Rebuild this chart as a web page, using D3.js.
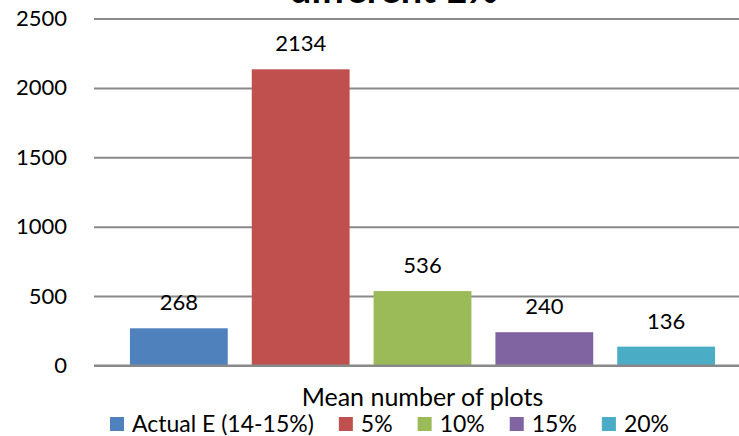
<!DOCTYPE html>
<html><head><meta charset="utf-8">
<script src="https://cdn.jsdelivr.net/npm/d3@7"></script>
<style>
html,body{margin:0;padding:0;background:#fff;overflow:hidden}
text{font-family:Lato,"Open Sans",sans-serif;fill:#000}
</style></head>
<body><svg id="c" width="739" height="436"></svg>
<script>
const categories = ["Actual E (14-15%)", "5%", "10%", "15%", "20%"];
const values = [268, 2134, 536, 240, 136];
const colors = ["#4F81BD", "#C0504D", "#9BBB59", "#8064A2", "#4BACC6"];
const yTicks = [0, 500, 1000, 1500, 2000, 2500];
const axisTitle = "Mean number of plots";
const chartTitle = "different E%";

const svg = d3.select("#c");
const m = {left: 94, right: 751, top: 18.5, bottom: 365.5};

const x = d3.scaleBand().domain(categories).range([m.left, m.right])
  .paddingInner(0.197).paddingOuter(0.295);
const y = d3.scaleLinear().domain([0, 2500]).range([m.bottom, m.top]);

// title (cropped at top edge)
svg.append("text").attr("x", 394).attr("y", 2.5).attr("text-anchor", "middle")
  .attr("font-size", 38).attr("font-weight", "bold").text(chartTitle);

// gridlines + tick labels
const yAxis = d3.axisLeft(y).tickValues(yTicks).tickSize(-(m.right - m.left))
  .tickFormat(d3.format("d")).tickPadding(27);
const gy = svg.append("g").attr("transform", `translate(${m.left},0)`).call(yAxis);
gy.select(".domain").remove();
gy.selectAll(".tick line").attr("stroke", "#898989").attr("stroke-width", 2);
gy.selectAll(".tick text").attr("font-size", 22).attr("fill", "#000")
  .style("font-family", "Lato, sans-serif");

// bars
svg.append("g").selectAll("rect").data(values).join("rect")
  .attr("x", (d, i) => x(categories[i]))
  .attr("width", x.bandwidth())
  .attr("y", d => y(d))
  .attr("height", d => y(0) - y(d))
  .attr("fill", (d, i) => colors[i]);

// zero line
svg.append("line").attr("x1", m.left).attr("x2", m.right).attr("y1", y(0)).attr("y2", y(0))
  .attr("stroke", "#898989").attr("stroke-width", 2);

// data labels
svg.append("g").selectAll("text").data(values).join("text")
  .attr("x", (d, i) => x(categories[i]) + x.bandwidth() / 2)
  .attr("y", d => y(d) - 18)
  .attr("text-anchor", "middle").attr("font-size", 22)
  .text(d => d);

// axis title
svg.append("text").attr("x", (m.left + m.right) / 2).attr("y", 406).attr("text-anchor", "middle")
  .attr("font-size", 25).text(axisTitle);

// legend
const lg = svg.append("g");
let lx = 110;
categories.forEach((c, i) => {
  lg.append("rect").attr("x", lx).attr("y", 417).attr("width", 14).attr("height", 14).attr("fill", colors[i]);
  const t = lg.append("text").attr("x", lx + 22).attr("y", 432).attr("font-size", 23).text(c);
  lx += 22 + t.node().getComputedTextLength() + 25;
});
</script></body></html>
